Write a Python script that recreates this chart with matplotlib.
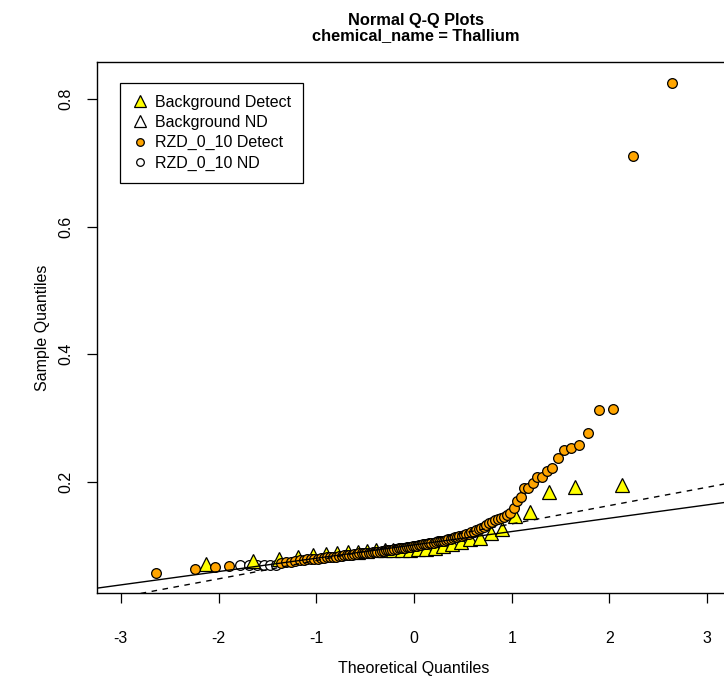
import matplotlib
matplotlib.use('Agg')
import matplotlib.pyplot as plt
from matplotlib.lines import Line2D
from statistics import NormalDist
import numpy as np

plt.rcParams['font.family'] = ['Liberation Sans', 'DejaVu Sans']
plt.rcParams['axes.unicode_minus'] = False

# Sample values (sorted)
background_detect = [0.072, 0.076, 0.080, 0.083, 0.086, 0.087, 0.088, 0.090, 0.091, 0.092,
                     0.093, 0.093, 0.093, 0.094, 0.094, 0.095, 0.095, 0.097, 0.100, 0.103,
                     0.106, 0.110, 0.112, 0.120, 0.126, 0.147, 0.153, 0.184, 0.192, 0.195]
background_nd = []

rzd_detect = [0.057, 0.063, 0.066, 0.069,
              0.073, 0.074, 0.075, 0.076, 0.077, 0.078, 0.079, 0.079, 0.080, 0.080,
              0.081, 0.081, 0.082, 0.082, 0.083, 0.083, 0.084, 0.084, 0.085, 0.085,
              0.086, 0.086, 0.087, 0.087, 0.088, 0.088, 0.088, 0.089, 0.089, 0.089,
              0.090, 0.090, 0.091, 0.091, 0.092, 0.092, 0.093, 0.093, 0.094, 0.094,
              0.095, 0.095, 0.096, 0.096, 0.097, 0.097, 0.098, 0.098, 0.098, 0.099,
              0.099, 0.100, 0.101, 0.101, 0.102, 0.103, 0.103, 0.104, 0.104, 0.105,
              0.106, 0.107, 0.107, 0.108, 0.108, 0.109, 0.110, 0.111, 0.112, 0.113,
              0.114, 0.1155, 0.116, 0.117, 0.118, 0.119, 0.121, 0.122, 0.124, 0.126,
              0.128, 0.130, 0.132, 0.135, 0.138, 0.140, 0.142, 0.143, 0.145, 0.148,
              0.152, 0.159, 0.170, 0.176, 0.190, 0.190, 0.199, 0.207, 0.208, 0.217,
              0.222, 0.237, 0.250, 0.253, 0.258, 0.276, 0.313, 0.314, 0.7105, 0.825]
rzd_nd = [0.070, 0.070, 0.070, 0.070, 0.070, 0.070]

# qqline fits (intercept, slope)
background_line = (0.1014, 0.0209)
rzd_line = (0.1056, 0.0287)


def qq_positions(detect, nd):
    vals = np.array(detect + nd, dtype=float)
    flag = np.array([1] * len(detect) + [0] * len(nd))
    order = np.argsort(vals, kind='stable')
    n = len(vals)
    a = 0.375 if n <= 10 else 0.5
    p = (np.arange(1, n + 1) - a) / (n + 1 - 2 * a)
    z = np.array([NormalDist().inv_cdf(pp) for pp in p])
    return z, vals[order], flag[order]


bz, bv, bf = qq_positions(background_detect, background_nd)
rz, rv, rf = qq_positions(rzd_detect, rzd_nd)

fig = plt.figure(figsize=(7.24, 6.82), dpi=100)
ax = fig.add_axes([97 / 724, 1 - 593 / 682, 634 / 724, 531 / 682])

ax.plot(rz[rf == 0], rv[rf == 0], 'o', ms=7, mfc='white', mec='black', mew=0.9, zorder=2)
ax.plot(bz[bf == 0], bv[bf == 0], '^', ms=10, mfc='white', mec='black', mew=0.9, zorder=2)
ax.plot(bz[bf == 1], bv[bf == 1], '^', ms=10, mfc='#FFFF00', mec='black', mew=0.9, zorder=3)
ax.plot(rz[rf == 1], rv[rf == 1], 'o', ms=7, mfc='#FFA500', mec='black', mew=0.9, zorder=4)

xlim = (-3.244, 3.244)
xx = np.array(xlim)
ax.plot(xx, background_line[0] + background_line[1] * xx, '-', color='black', lw=1.0, zorder=5)
ax.plot(xx, rzd_line[0] + rzd_line[1] * xx, '--', color='black', lw=1.0, dashes=(4, 4), zorder=5)

ax.set_xlim(xlim)
ax.set_ylim(0.026, 0.858)
ax.set_xticks([-3, -2, -1, 0, 1, 2, 3])
ax.set_yticks([0.2, 0.4, 0.6, 0.8])
ax.tick_params(labelsize=11.5, length=7, width=0.9)
ax.tick_params(axis='x', pad=20.5)
ax.tick_params(axis='y', pad=10)
for lbl in ax.get_yticklabels():
    lbl.set_rotation(90)
    lbl.set_va('center')
for s in ax.spines.values():
    s.set_linewidth(1.0)

ax.set_xlabel('Theoretical Quantiles', fontsize=11.5, labelpad=11)
ax.set_ylabel('Sample Quantiles', fontsize=11.5, labelpad=6)
fig.text(416 / 724, 1 - 28 / 682, 'Normal Q-Q Plots\nchemical_name = Thallium',
         ha='center', va='center', fontsize=11.8, fontweight='bold', linespacing=1.05)

handles = [
    Line2D([], [], ls='', marker='^', ms=8, mfc='#FFFF00', mec='black', mew=0.9),
    Line2D([], [], ls='', marker='^', ms=8, mfc='white', mec='black', mew=0.9),
    Line2D([], [], ls='', marker='o', ms=5.5, mfc='#FFA500', mec='black', mew=0.9),
    Line2D([], [], ls='', marker='o', ms=5.5, mfc='white', mec='black', mew=0.9),
]
labels = ['Background Detect', 'Background ND', 'RZD_0_10 Detect', 'RZD_0_10 ND']
leg = ax.legend(handles, labels, loc='upper left', bbox_to_anchor=(23 / 634, 1 - 21 / 531),
                borderaxespad=0, fontsize=11.5, frameon=True, fancybox=False,
                edgecolor='black', framealpha=1, handlelength=1.0, handletextpad=0.45,
                labelspacing=0.32, borderpad=0.75)
leg.get_frame().set_linewidth(0.9)

fig.savefig('out.png', dpi=100)
